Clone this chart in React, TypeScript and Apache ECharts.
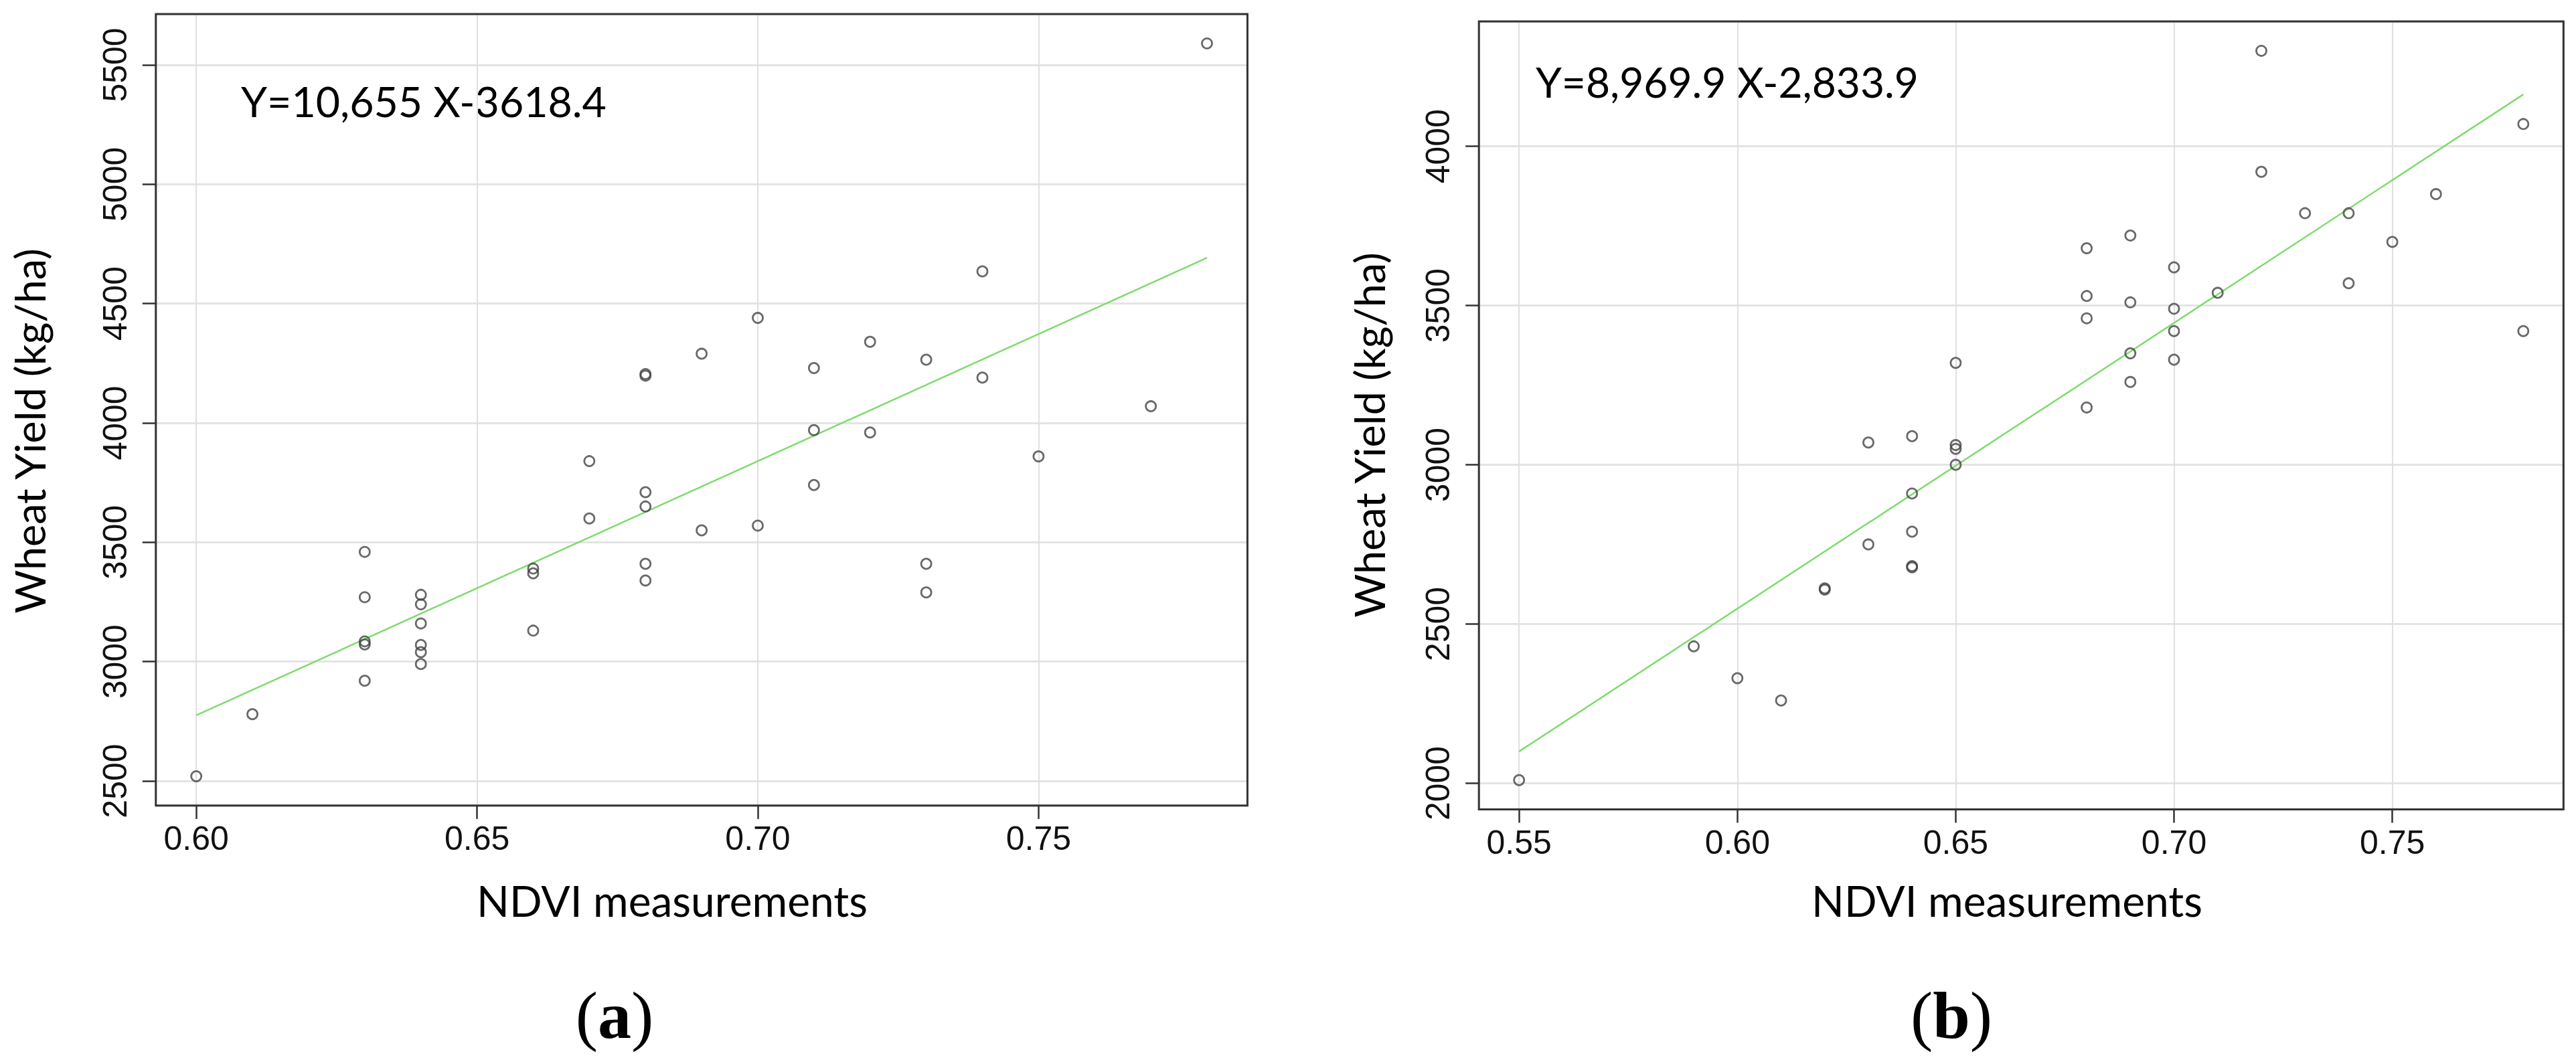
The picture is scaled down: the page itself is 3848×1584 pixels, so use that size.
import React, { useEffect, useRef } from "react";
import * as echarts from "echarts";

// ---------- data ----------
const NDVI_A = [0.60, 0.61, 0.63, 0.63, 0.63, 0.63, 0.63, 0.64, 0.64, 0.64, 0.64, 0.64, 0.64, 0.66, 0.66, 0.66, 0.67, 0.67, 0.68, 0.68, 0.68, 0.68, 0.68, 0.68, 0.69, 0.69, 0.70, 0.70, 0.71, 0.71, 0.71, 0.72, 0.72, 0.73, 0.73, 0.73, 0.74, 0.74, 0.75, 0.77, 0.78];
const YIELD_A = [2520, 2780, 3460, 3270, 3085, 3072, 2920, 3280, 3240, 3160, 3070, 3040, 2990, 3390, 3370, 3130, 3840, 3600, 4205, 4198, 3710, 3650, 3410, 3340, 4290, 3550, 4440, 3570, 4230, 3970, 3740, 4340, 3960, 4265, 3410, 3290, 4635, 4190, 3860, 4070, 5590];
const FIT_A_X = [0.60, 0.78];
const FIT_A_Y = [2775, 4692];

const NDVI_B = [0.55, 0.59, 0.60, 0.61, 0.62, 0.62, 0.63, 0.63, 0.64, 0.64, 0.64, 0.64, 0.64, 0.65, 0.65, 0.65, 0.65, 0.68, 0.68, 0.68, 0.68, 0.69, 0.69, 0.69, 0.69, 0.70, 0.70, 0.70, 0.70, 0.71, 0.72, 0.72, 0.73, 0.74, 0.74, 0.75, 0.76, 0.78, 0.78];
const YIELD_B = [2010, 2430, 2330, 2260, 2612, 2608, 3070, 2750, 3090, 2910, 2790, 2682, 2678, 3320, 3062, 3050, 3000, 3680, 3530, 3460, 3180, 3720, 3510, 3350, 3260, 3620, 3490, 3420, 3330, 3540, 4300, 3920, 3790, 3790, 3570, 3700, 3850, 4070, 3420];
const FIT_B_X = [0.55, 0.78];
const FIT_B_Y = [2100, 4163];

const X_TICKS_A = [0.60, 0.65, 0.70, 0.75];
const Y_TICKS_A = [2500, 3000, 3500, 4000, 4500, 5000, 5500];
const X_TICKS_B = [0.55, 0.60, 0.65, 0.70, 0.75];
const Y_TICKS_B = [2000, 2500, 3000, 3500, 4000];

const X_RANGE_A = [0.5928, 0.7872];
const Y_RANGE_A = [2397, 5713];
const X_RANGE_B = [0.5408, 0.7892];
const Y_RANGE_B = [1918, 4392];

const EQ_A = "Y=10,655 X-3618.4";
const EQ_B = "Y=8,969.9 X-2,833.9";
const X_TITLE = "NDVI measurements";
const Y_TITLE = "Wheat Yield (kg/ha)";
const PANEL_LABELS = ["a", "b"];

// ---------- layout ----------
const W = 3848;
const H = 1584;
const GRID_A = { left: 232.8, top: 21, right: 1863.4, bottom: 1203.8 };
const GRID_B = { left: 2209.2, top: 32.1, right: 3829.3, bottom: 1209.5 };
const TITLE_FONT = "Lato";
const TICK_FONT = "Liberation Sans";
const SERIF = "Liberation Serif";

function fitSize(text: string, family: string, weight: string, target: number): number {
  const ctx = document.createElement("canvas").getContext("2d");
  if (!ctx) return 60;
  ctx.font = `${weight} 100px "${family}"`;
  const w = ctx.measureText(text).width;
  return (100 * target) / w;
}

function makeAxis(ticks: number[], range: number[], gridIndex: number, isY: boolean) {
  const step = ticks[1] - ticks[0];
  return {
    type: "value",
    gridIndex,
    min: range[0],
    max: range[1],
    minInterval: step,
    maxInterval: step,
    axisLine: { show: false },
    axisTick: { show: true, length: 20, lineStyle: { color: "#333", width: 2.5 } },
    axisLabel: {
      show: true,
      fontFamily: TICK_FONT,
      fontSize: 50,
      color: "#111",
      margin: isY ? 36 : 24,
      rotate: isY ? 90 : 0,
      showMinLabel: false,
      showMaxLabel: false,
      formatter: (v: number) => (isY ? String(Math.round(v)) : v.toFixed(2)),
    },
    splitLine: { show: true, lineStyle: { color: isY ? "#e4e4e4" : "#e0e0e0", width: isY ? 3 : 2 } },
  };
}

function gridOf(g: { left: number; top: number; right: number; bottom: number }) {
  return {
    left: g.left,
    top: g.top,
    width: g.right - g.left,
    height: g.bottom - g.top,
    show: true,
    borderWidth: 0,
    backgroundColor: "#fff",
    containLabel: false,
  };
}

function borderOf(g: { left: number; top: number; right: number; bottom: number }) {
  return {
    type: "rect",
    silent: true,
    z: 100,
    shape: { x: g.left, y: g.top, width: g.right - g.left, height: g.bottom - g.top },
    style: { fill: "none", stroke: "#333", lineWidth: 3 },
  };
}

export default function App() {
  const ref = useRef<HTMLDivElement>(null);

  useEffect(() => {
    if (!ref.current) return;
    const chart = echarts.init(ref.current, null, { renderer: "svg" });

    const ySize = fitSize(Y_TITLE, TITLE_FONT, "normal", 548);
    const xSize = fitSize(X_TITLE, TITLE_FONT, "normal", 584);
    const eqSizeA = fitSize(EQ_A, TITLE_FONT, "normal", 546);
    const eqSizeB = fitSize(EQ_B, TITLE_FONT, "normal", 572);

    const scatterStyle = {
      color: "rgba(0,0,0,0)",
      borderColor: "#444",
      borderWidth: 2.8,
    };
    const lineStyle = { color: "#7ddc6c", width: 2.5 };

    const textEl = (x: number, y: number, text: string, size: number, align: string, rotation = 0) => ({
      type: "text",
      x,
      y,
      rotation,
      silent: true,
      style: {
        text,
        fontFamily: TITLE_FONT,
        fontSize: size,
        fill: "#000",
        align,
        textAlign: align,
        verticalAlign: "middle",
        textVerticalAlign: "middle",
      },
    });

    const panelLabel = (x: number, y: number, letter: string) => ({
      type: "text",
      x,
      y,
      silent: true,
      style: {
        text: `{p|(}{b|${letter}}{p|)}`,
        align: "center",
        textAlign: "center",
        verticalAlign: "middle",
        textVerticalAlign: "middle",
        fill: "#000",
        rich: {
          p: { fontFamily: SERIF, fontSize: 100, fontWeight: "normal", fill: "#000", color: "#000" },
          b: { fontFamily: SERIF, fontSize: 100, fontWeight: "bold", fill: "#000", color: "#000" },
        },
      },
    });

    chart.setOption({
      animation: false,
      backgroundColor: "#fff",
      grid: [gridOf(GRID_A), gridOf(GRID_B)],
      xAxis: [makeAxis(X_TICKS_A, X_RANGE_A, 0, false), makeAxis(X_TICKS_B, X_RANGE_B, 1, false)],
      yAxis: [makeAxis(Y_TICKS_A, Y_RANGE_A, 0, true), makeAxis(Y_TICKS_B, Y_RANGE_B, 1, true)],
      series: [
        {
          type: "line",
          xAxisIndex: 0,
          yAxisIndex: 0,
          data: FIT_A_X.map((x, i) => [x, FIT_A_Y[i]]),
          showSymbol: false,
          symbol: "none",
          lineStyle,
          silent: true,
          z: 2,
        },
        {
          type: "scatter",
          xAxisIndex: 0,
          yAxisIndex: 0,
          data: NDVI_A.map((x, i) => [x, YIELD_A[i]]),
          symbol: "circle",
          symbolSize: 15,
          itemStyle: scatterStyle,
          z: 3,
        },
        {
          type: "line",
          xAxisIndex: 1,
          yAxisIndex: 1,
          data: FIT_B_X.map((x, i) => [x, FIT_B_Y[i]]),
          showSymbol: false,
          symbol: "none",
          lineStyle,
          silent: true,
          z: 2,
        },
        {
          type: "scatter",
          xAxisIndex: 1,
          yAxisIndex: 1,
          data: NDVI_B.map((x, i) => [x, YIELD_B[i]]),
          symbol: "circle",
          symbolSize: 15,
          itemStyle: scatterStyle,
          z: 3,
        },
      ],
      graphic: [
        borderOf(GRID_A),
        borderOf(GRID_B),
        textEl(43, 644, Y_TITLE, ySize, "center", Math.PI / 2),
        textEl(2044, 650, Y_TITLE, ySize, "center", Math.PI / 2),
        textEl(1004, 1345, X_TITLE, xSize, "center"),
        textEl(2998, 1345, X_TITLE, xSize, "center"),
        textEl(360, 150.5, EQ_A, eqSizeA, "left"),
        textEl(2294, 121.7, EQ_B, eqSizeB, "left"),
        panelLabel(918, 1517, PANEL_LABELS[0]),
        panelLabel(2915, 1517, PANEL_LABELS[1]),
      ],
    });

    return () => chart.dispose();
  }, []);

  return (
    <div
      ref={ref}
      style={{ position: "absolute", left: 0, top: 0, width: W, height: H, background: "#fff" }}
    />
  );
}
